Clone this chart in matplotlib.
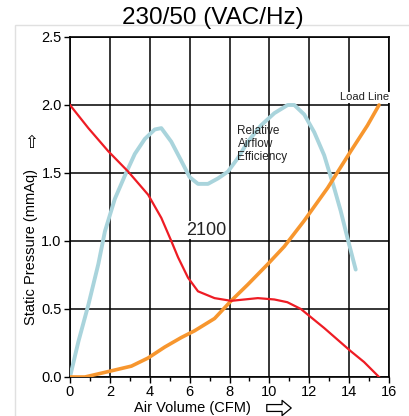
import matplotlib.pyplot as plt
from matplotlib.patches import FancyArrowPatch, Rectangle
from matplotlib.ticker import MultipleLocator

plt.rcParams['font.family'] = ['Liberation Sans', 'DejaVu Sans']

# P-Q curve at 2100 rpm
pq_x = [0, 0.92, 1.92, 2.92, 3.92, 4.58, 5.08, 5.42, 5.92, 6.42, 7.25, 8.08, 9.42, 10.25,
        10.9, 11.58, 12.75, 14.08, 14.75, 15.5]
pq_y = [2.0, 1.83, 1.66, 1.51, 1.34, 1.17, 1.0, 0.88, 0.73, 0.63, 0.58, 0.56, 0.58, 0.57,
        0.55, 0.50, 0.36, 0.19, 0.11, 0.0]

# system load line
load_x = [0, 0.75, 1.92, 3.08, 3.92, 4.75, 5.58, 6.25, 7.25, 8.08, 8.92, 9.92, 10.75,
          11.75, 12.92, 14.08, 14.92, 15.5]
load_y = [0, 0, 0.04, 0.08, 0.14, 0.22, 0.29, 0.34, 0.43, 0.56, 0.68, 0.83, 0.96,
          1.15, 1.39, 1.66, 1.85, 2.0]

# relative airflow efficiency
eff_x = [0, 0.42, 0.92, 1.42, 1.75, 2.25, 2.75, 3.25, 3.75, 4.25, 4.58, 5.08, 5.58, 6.0,
         6.42, 6.92, 7.42, 7.92, 8.42, 8.92, 9.58, 10.25, 10.92, 11.25, 11.75, 12.25,
         12.75, 13.25, 13.58, 13.92, 14.33]
eff_y = [0, 0.26, 0.53, 0.83, 1.07, 1.31, 1.48, 1.64, 1.75, 1.82, 1.83, 1.73, 1.59, 1.47,
         1.42, 1.42, 1.46, 1.51, 1.61, 1.73, 1.85, 1.94, 2.0, 2.0, 1.93, 1.80,
         1.63, 1.39, 1.22, 1.02, 0.79]

fig = plt.figure(figsize=(4.09, 4.16), dpi=100)
fig.patches.append(Rectangle((15 / 409, -0.1), 1.2, 1 - 25 / 416 + 0.1,
                             transform=fig.transFigure, fill=False,
                             edgecolor='#e0e0e0', linewidth=1))
ax = fig.add_axes([70 / 409, 1 - 377 / 416, 319 / 409, 340 / 416])

ax.plot(eff_x, eff_y, color='#a9d4dc', linewidth=2.8, zorder=3,
        solid_joinstyle='round', solid_capstyle='round')
ax.plot(load_x, load_y, color='#f7962e', linewidth=2.6, zorder=4,
        solid_joinstyle='round', solid_capstyle='round')
ax.plot(pq_x, pq_y, color='#ee1c24', linewidth=1.6, zorder=5,
        solid_joinstyle='round')

ax.set_xlim(0, 16)
ax.set_ylim(0, 2.5)
ax.xaxis.set_major_locator(MultipleLocator(2))
ax.xaxis.set_minor_locator(MultipleLocator(1))
ax.yaxis.set_major_locator(MultipleLocator(0.5))
ax.yaxis.set_major_formatter(lambda v, p: f"{v:.1f}")
ax.grid(True, color='black', linewidth=1.1)
ax.set_axisbelow(True)
for s in ax.spines.values():
    s.set_linewidth(1.2)
ax.tick_params(which='major', direction='out', length=4, width=1, labelsize=10.5, pad=2)
ax.tick_params(which='minor', direction='out', length=3, width=1)

fig.text(0.52, 1 - 18 / 416, "230/50 (VAC/Hz)", ha='center', va='center', fontsize=17.5)
fig.text(31 / 409, 1 - 247 / 416, "Static Pressure (mmAq)", rotation=90,
         ha='center', va='center', fontsize=10.5)
fig.text(31 / 409, 1 - 143 / 416, "\u21e7", ha='center', va='center', fontsize=12,
         family=['DejaVu Sans'])
fig.text(192 / 409, 1 - 408 / 416, "Air Volume (CFM)", ha='center', va='center', fontsize=10.5)

# hollow arrow next to the x label
fig.patches.append(FancyArrowPatch((264 / 409, 1 - 408 / 416), (294 / 409, 1 - 408 / 416),
                                   transform=fig.transFigure,
                                   arrowstyle='simple,head_length=0.6,head_width=1.0,tail_width=0.45',
                                   mutation_scale=11, facecolor='white',
                                   edgecolor='black', linewidth=0.9))

ax.text(8.4, 1.85, "Relative\nAirflow\nEfficiency", ha='left', va='top',
        fontsize=8.5, color='#222222', linespacing=1.1, zorder=6)
ax.text(16, 2.02, "Load Line", ha='right', va='bottom', fontsize=8, color='#222222',
        bbox=dict(facecolor='white', edgecolor='none', pad=0.5), zorder=6)
ax.text(6.85, 1.08, "2100", ha='center', va='center', fontsize=13, color='#222222',
        bbox=dict(facecolor='white', edgecolor='none', pad=0.5), zorder=6)

fig.savefig("out.png", dpi=100)
